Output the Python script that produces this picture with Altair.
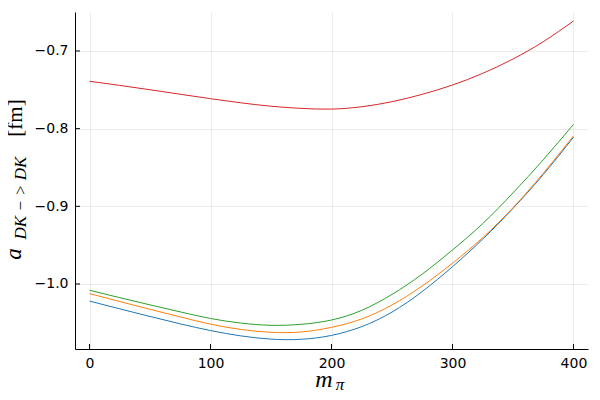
import altair as alt
import pandas as pd

# ---------------- data ----------------
m_pi = [0, 25, 50, 75, 100, 125, 150, 175, 200, 225, 250, 275, 300, 325, 350, 375, 400]

blue = [-1.022, -1.032, -1.0418, -1.0513, -1.060, -1.0668, -1.071, -1.0712, -1.0662,
        -1.0549, -1.0362, -1.0097, -0.9777, -0.9422, -0.9027, -0.8592, -0.811]
orange = [-1.0124, -1.0226, -1.0326, -1.0424, -1.0517, -1.0585, -1.0622, -1.0618, -1.0558,
          -1.045, -1.027, -1.0025, -0.9733, -0.9403, -0.9018, -0.8575, -0.8094]
green = [-1.0081, -1.0176, -1.0269, -1.0359, -1.0444, -1.0503, -1.0532, -1.0519, -1.0464,
         -1.0339, -1.0134, -0.9872, -0.9562, -0.9222, -0.8827, -0.8401, -0.7945]
red = [-0.739, -0.7443, -0.7499, -0.7557, -0.7614, -0.7667, -0.7711, -0.7739, -0.7748,
       -0.7718, -0.7653, -0.7558, -0.7438, -0.7288, -0.7103, -0.6881, -0.6614]

series_names = ["y1", "y2", "y3", "y4"]
series_colors = ["#1f77b4", "#ff7f0e", "#2ca02c", "#d62728"]

x_ticks = [0, 100, 200, 300, 400]
y_ticks = [-1.0, -0.9, -0.8, -0.7]

y_label_main = "a"
y_label_sub = "DK − > DK"
y_label_unit = "[fm]"
x_label_main = "m"
x_label_sub = "π"

# ---------------- tables ----------------
rows = []
for name, vals in zip(series_names, [blue, orange, green, red]):
    for xv, yv in zip(m_pi, vals):
        rows.append({"m_pi": xv, "a": yv, "series": name})
df = pd.DataFrame(rows)

W, H = 513, 337
xscale = alt.Scale(domain=[-12, 412], nice=False, zero=False)
yscale = alt.Scale(domain=[-1.0837, -0.6498], nice=False, zero=False)

axis_common = dict(
    domainColor="black", domainWidth=1, ticks=False,
    gridColor="black", gridOpacity=0.07, gridWidth=1,
    labelFont="DejaVu Sans", labelFontSize=14, labelColor="black",
    labelPadding=7, title=None,
)
x_axis = alt.Axis(values=x_ticks, format="d", **axis_common)
y_axis = alt.Axis(values=y_ticks, format=".1f", **axis_common)

lines = alt.Chart(df).mark_line(strokeWidth=1, interpolate="natural").encode(
    x=alt.X("m_pi:Q", scale=xscale, axis=x_axis),
    y=alt.Y("a:Q", scale=yscale, axis=y_axis),
    color=alt.Color("series:N",
                    scale=alt.Scale(domain=series_names, range=series_colors),
                    legend=None),
)

xt = alt.Chart(pd.DataFrame({"t": x_ticks})).mark_rule(color="black", strokeWidth=1).encode(
    x=alt.X("t:Q", scale=xscale, axis=x_axis),
    y=alt.value(H), y2=alt.value(H - 5),
)
yt = alt.Chart(pd.DataFrame({"t": y_ticks})).mark_rule(color="black", strokeWidth=1).encode(
    y=alt.Y("t:Q", scale=yscale, axis=y_axis),
    x=alt.value(0), x2=alt.value(5),
)


def label(txt, size, style, x, y, angle=0, align="center"):
    kw = dict(font="Liberation Serif", fontSize=size, align=align,
              baseline="alphabetic", color="black")
    if style:
        kw["fontStyle"] = style
    if angle:
        kw["angle"] = angle
    return alt.Chart(pd.DataFrame({"t": [txt]})).mark_text(**kw).encode(
        text="t:N", x=alt.value(x), y=alt.value(y))


ya = label(y_label_main, 23, "italic", -54, 242, angle=270)
ys = label(y_label_sub, 17, "italic", -49, 186, angle=270)
yu = label(y_label_unit, 21, None, -53, 106, angle=270)
xm = label(x_label_main, 24, "italic", 249, 375)
xs = label(x_label_sub, 17, "italic", 265, 378)

chart = alt.layer(lines, xt, yt, ya, ys, yu, xm, xs).properties(
    width=W, height=H,
    autosize=alt.AutoSizeParams(type="none"),
    padding={"left": 67, "top": 4, "right": 4, "bottom": 43},
    background="white",
).configure_view(stroke=None)

chart.save("out.html", embed_options={"renderer": "svg", "actions": False})
